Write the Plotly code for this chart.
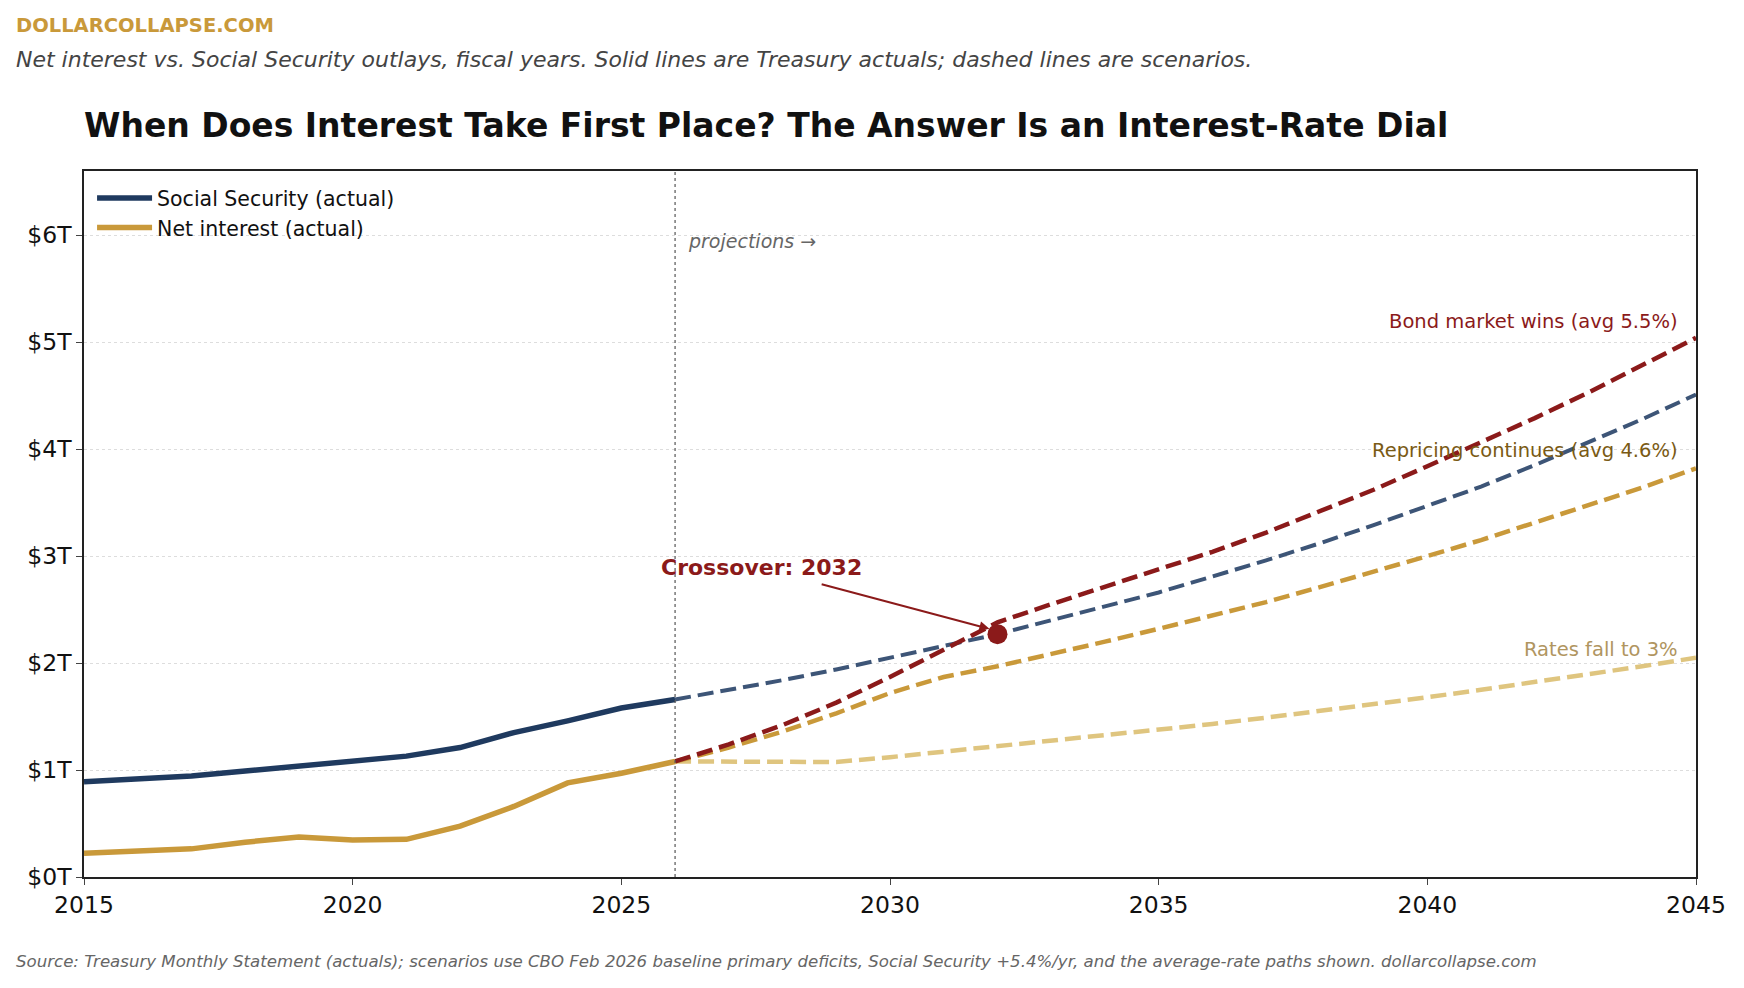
import plotly.graph_objects as go

years_act = list(range(2015, 2027))
ss_act = [0.89, 0.92, 0.945, 0.99, 1.04, 1.09, 1.13, 1.21, 1.35, 1.46, 1.58, 1.66]
ni_act = [0.223, 0.24, 0.263, 0.325, 0.375, 0.345, 0.352, 0.475, 0.66, 0.88, 0.97, 1.08]

years_proj = list(range(2026, 2046))
ss_proj = [1.66, 1.75, 1.84, 1.94, 2.05, 2.16, 2.27, 2.40, 2.53, 2.66, 2.81, 2.96, 3.12, 3.29, 3.47, 3.65, 3.85, 4.06, 4.28, 4.51]
bond = [1.08, 1.24, 1.42, 1.63, 1.87, 2.13, 2.38, 2.55, 2.71, 2.88, 3.04, 3.22, 3.42, 3.62, 3.84, 4.06, 4.29, 4.53, 4.78, 5.04]
repricing = [1.08, 1.21, 1.36, 1.53, 1.72, 1.87, 1.97, 2.08, 2.20, 2.32, 2.44, 2.57, 2.71, 2.85, 3.00, 3.15, 3.31, 3.47, 3.64, 3.82]
rates_fall = [1.08, 1.08, 1.08, 1.075, 1.12, 1.17, 1.22, 1.27, 1.32, 1.38, 1.43, 1.49, 1.55, 1.61, 1.68, 1.75, 1.82, 1.89, 1.97, 2.05]

cross_year, cross_val = 2032, 2.27

NAVY = "#1f3a5f"; GOLD = "#c9993a"; RED = "#8b1a1a"; SSD = "#3d5577"; LGOLD = "#dfc57f"
F = "DejaVu Sans"
DASH = "16px,7px"

fig = go.Figure()
fig.add_trace(go.Scatter(x=years_proj, y=rates_fall, mode="lines", line=dict(color=LGOLD, width=4.5, dash=DASH), showlegend=False))
fig.add_trace(go.Scatter(x=years_proj, y=repricing, mode="lines", line=dict(color=GOLD, width=4.5, dash=DASH), showlegend=False))
fig.add_trace(go.Scatter(x=years_proj, y=ss_proj, mode="lines", line=dict(color=SSD, width=4, dash=DASH), showlegend=False))
fig.add_trace(go.Scatter(x=years_proj, y=bond, mode="lines", line=dict(color=RED, width=4.5, dash=DASH), showlegend=False))
fig.add_trace(go.Scatter(x=years_act, y=ss_act, mode="lines", name="Social Security (actual)", line=dict(color=NAVY, width=5.5)))
fig.add_trace(go.Scatter(x=years_act, y=ni_act, mode="lines", name="Net interest (actual)", line=dict(color=GOLD, width=5.5)))
fig.add_trace(go.Scatter(x=[cross_year], y=[cross_val], mode="markers", marker=dict(color=RED, size=20), showlegend=False))

fig.add_vline(x=2026, line=dict(color="#555", width=1.2, dash="dot"))

ann = [
    dict(x=2026.2, y=5.95, text="<i>projections →</i>", xanchor="left", font=dict(size=19, color="#666")),
    dict(x=2044.7, y=5.19, text="Bond market wins (avg 5.5%)", xanchor="right", font=dict(size=19.5, color=RED)),
    dict(x=2044.7, y=3.99, text="Repricing continues (avg 4.6%)", xanchor="right", font=dict(size=19.5, color="#7a5a14")),
    dict(x=2044.7, y=2.13, text="Rates fall to 3%", xanchor="right", font=dict(size=19.5, color="#b09560")),
]
for a in ann:
    fig.add_annotation(xref="x", yref="y", showarrow=False, **a)
fig.add_annotation(x=cross_year - 0.15, y=cross_val + 0.05, ax=2028.7, ay=2.74, xref="x", yref="y", axref="x", ayref="y",
                   showarrow=True, arrowhead=2, arrowsize=1, arrowwidth=2, arrowcolor=RED, text="")
fig.add_annotation(x=2027.6, y=2.89, xref="x", yref="y", showarrow=False, text="<b>Crossover: 2032</b>",
                   font=dict(size=22, color=RED))

W, H = 1744, 988
ML, MR, MT, MB = 76, 56, 163, 119
paper_ann = [
    dict(x=6, y=17, text="<b>DOLLARCOLLAPSE.COM</b>", font=dict(size=19.5, color=GOLD)),
    dict(x=6, y=51, text="<i>Net interest vs. Social Security outlays, fiscal years. Solid lines are Treasury actuals; dashed lines are scenarios.</i>", font=dict(size=22, color="#444")),
    dict(x=74, y=117, text="<b>When Does Interest Take First Place? The Answer Is an Interest-Rate Dial</b>", font=dict(size=33, color="#111")),
    dict(x=6, y=953, text="<i>Source: Treasury Monthly Statement (actuals); scenarios use CBO Feb 2026 baseline primary deficits, Social Security +5.4%/yr, and the average-rate paths shown. dollarcollapse.com</i>", font=dict(size=16.6, color="#666")),
]
for a in paper_ann:
    fig.add_annotation(xref="paper", yref="paper", x=(a["x"] - ML) / (W - ML - MR), y=(H - MB - a["y"]) / (H - MT - MB),
                       xanchor="left", yanchor="middle", showarrow=False, text=a["text"], font=dict(family=F, **a["font"]))

fig.update_layout(
    width=W, height=H, margin=dict(l=ML, r=MR, t=MT, b=MB),
    paper_bgcolor="white", plot_bgcolor="white", font=dict(family=F, size=23.5, color="#111"),
    legend=dict(x=0.005, y=0.99, xanchor="left", yanchor="top", bgcolor="rgba(255,255,255,0)", font=dict(size=20.5),
                itemwidth=55),
    xaxis=dict(range=[2015, 2045], tickvals=[2015, 2020, 2025, 2030, 2035, 2040, 2045], showgrid=False,
               showline=True, linecolor="#222", linewidth=1.5, mirror=True, ticks="outside", ticklen=6, zeroline=False),
    yaxis=dict(range=[0, 6.6], tickvals=[0, 1, 2, 3, 4, 5, 6], ticktext=[f"${i}T" for i in range(7)],
               showgrid=True, gridcolor="#dddddd", griddash="dot", gridwidth=1,
               showline=True, linecolor="#222", linewidth=1.5, mirror=True, ticks="outside", ticklen=6, zeroline=False),
)
fig.write_html("out.html")
